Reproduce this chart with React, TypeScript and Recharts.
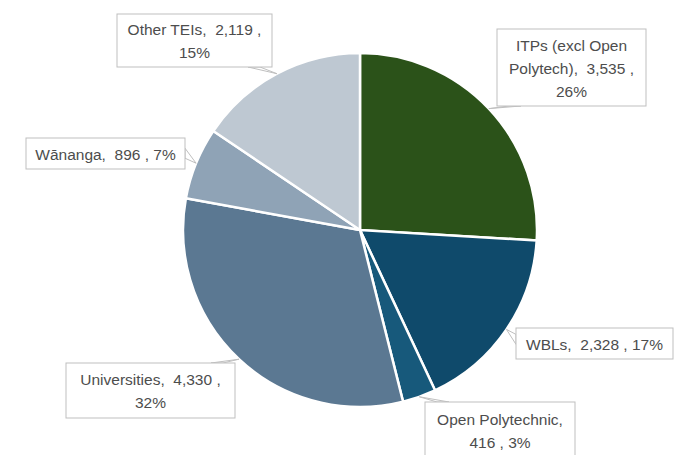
import React from 'react';
import { PieChart, Pie, Cell } from 'recharts';

const categories = ['ITPs (excl Open Polytech)', 'WBLs', 'Open Polytechnic', 'Universities', 'Wānanga', 'Other TEIs'];
const learners = [3535, 2328, 416, 4330, 896, 2119];
const percentLabels = ['26%', '17%', '3%', '32%', '7%', '15%'];
const labelLines = [
  ['ITPs (excl Open', 'Polytech),  3,535 ,', '26%'],
  ['WBLs,  2,328 , 17%'],
  ['Open Polytechnic,', '416 , 3%'],
  ['Universities,  4,330 ,', '32%'],
  ['Wānanga,  896 , 7%'],
  ['Other TEIs,  2,119 ,', '15%'],
];

const colors = ['#2b5219', '#0f4a6b', '#17597b', '#5b7892', '#8fa3b6', '#bec8d2'];

// callout box layout (x, y, w, h)
const boxes = [
  { x: 497, y: 29, w: 149, h: 77 },
  { x: 516, y: 328, w: 157, h: 31 },
  { x: 425, y: 402, w: 150, h: 56 },
  { x: 66, y: 363, w: 169, h: 55 },
  { x: 26, y: 138, w: 159, h: 31 },
  { x: 117, y: 14, w: 155, h: 53 },
];

const data = categories.map((name, i) => ({ name, value: learners[i], pct: percentLabels[i] }));

const RAD = Math.PI / 180;

const Callout = (props: any) => {
  const { cx, cy, midAngle, outerRadius, index } = props;
  const b = boxes[index];
  const tx = cx + outerRadius * Math.cos(-midAngle * RAD);
  const ty = cy + outerRadius * Math.sin(-midAngle * RAD);
  // nearest point on box border
  const px = Math.min(Math.max(tx, b.x), b.x + b.w);
  const py = Math.min(Math.max(ty, b.y), b.y + b.h);
  const dl = Math.abs(px - b.x), dr = Math.abs(b.x + b.w - px);
  const dt = Math.abs(py - b.y), db = Math.abs(b.y + b.h - py);
  const m = Math.min(dl, dr, dt, db);
  let p1: [number, number], p2: [number, number];
  if (m === dt || m === db) {
    const ex = m === dt ? b.y : b.y + b.h;
    const c = Math.min(Math.max(px + (tx < b.x + b.w / 2 ? 18 : -18), b.x + 8), b.x + b.w - 8);
    p1 = [c - 6, ex];
    p2 = [c + 6, ex];
  } else {
    const ex = m === dl ? b.x : b.x + b.w;
    const c = Math.min(Math.max(py + (ty < b.y + b.h / 2 ? 10 : -10), b.y + 5), b.y + b.h - 5);
    p1 = [ex, c - 5];
    p2 = [ex, c + 5];
  }
  const lines = labelLines[index];
  const lh = 23;
  const startY = b.y + b.h / 2 - ((lines.length - 1) * lh) / 2;
  return (
    <g>
      <polygon
        points={`${p1[0]},${p1[1]} ${tx},${ty} ${p2[0]},${p2[1]}`}
        fill="#ffffff"
        stroke="#bfbfbf"
        strokeWidth={1}
      />
      <rect x={b.x} y={b.y} width={b.w} height={b.h} fill="#ffffff" stroke="#bfbfbf" strokeWidth={1} />
      <text
        x={b.x + b.w / 2}
        y={startY}
        textAnchor="middle"
        dominantBaseline="central"
        fill="#4d4d4d"
        fontSize={15.5}
        fontFamily="Liberation Sans, Arial, sans-serif"
      >
        {lines.map((l, i) => (
          <tspan key={i} x={b.x + b.w / 2} y={startY + i * lh} style={{ whiteSpace: 'pre' }}>
            {l}
          </tspan>
        ))}
      </text>
    </g>
  );
};

export default function App() {
  return (
    <div style={{ position: 'absolute', left: 0, top: 0, background: '#fff' }}>
      <PieChart width={679} height={455} margin={{ top: 0, right: 0, bottom: 0, left: 0 }}>
        <Pie
          data={data}
          dataKey="value"
          nameKey="name"
          cx={360}
          cy={230}
          outerRadius={177}
          startAngle={90}
          endAngle={-270}
          stroke="#ffffff"
          strokeWidth={2.5}
          label={Callout}
          labelLine={false}
          isAnimationActive={false}
        >
          {data.map((d, i) => (
            <Cell key={d.name} fill={colors[i]} />
          ))}
        </Pie>
      </PieChart>
    </div>
  );
}
